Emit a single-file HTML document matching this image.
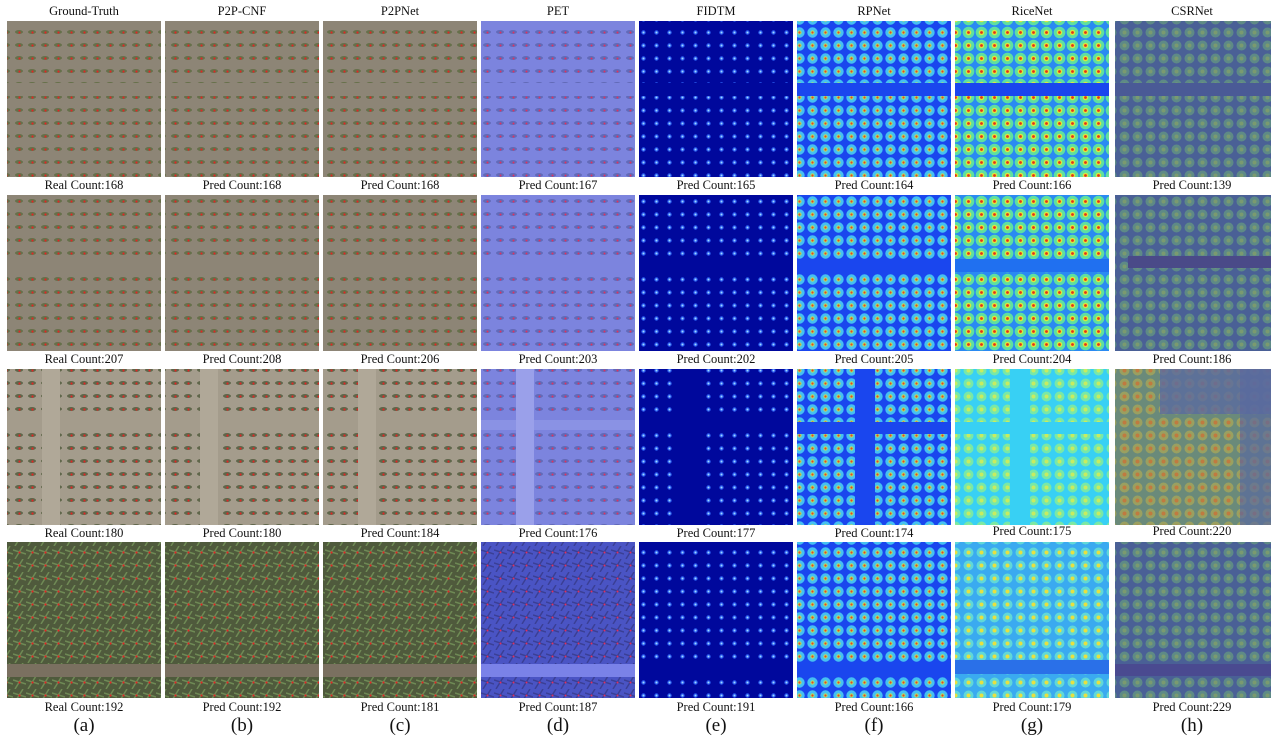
<!DOCTYPE html>
<html><head><meta charset="utf-8"><style>
body{margin:0;background:#fff;width:1280px;height:738px;overflow:hidden}
svg text{font-family:"Liberation Serif",serif;fill:#111}
</style></head><body>
<svg width="1280" height="738" xmlns="http://www.w3.org/2000/svg">
<defs>
<pattern id="fd" width="13" height="13" patternUnits="userSpaceOnUse"><rect width="13" height="13" fill="#8d8576"/><ellipse cx="6" cy="6" rx="4" ry="2" fill="#66704a"/><circle cx="6.5" cy="6.5" r="1.1" fill="#e02525"/></pattern>
<pattern id="fd3" width="13" height="13" patternUnits="userSpaceOnUse"><rect width="13" height="13" fill="#a49c8c"/><ellipse cx="6" cy="6" rx="4" ry="2" fill="#5f664a"/><circle cx="6.5" cy="6.5" r="1.1" fill="#e02525"/></pattern>
<pattern id="fd4" width="13" height="13" patternUnits="userSpaceOnUse"><rect width="13" height="13" fill="#4f5a3c"/><path d="M0 4L13 8M2 13L10 0" stroke="#6f8a55" stroke-width="1.5"/><circle cx="6.5" cy="6.5" r="1.1" fill="#e02525"/></pattern>
<pattern id="pt" width="13" height="13" patternUnits="userSpaceOnUse"><rect width="13" height="13" fill="#7c84de"/><ellipse cx="6" cy="6" rx="4" ry="2" fill="#626ab8"/><circle cx="6.5" cy="6.5" r="1" fill="#e03060"/></pattern>
<pattern id="pt4" width="13" height="13" patternUnits="userSpaceOnUse"><rect width="13" height="13" fill="#4a54c4"/><path d="M0 4L13 8M2 13L10 0" stroke="#3a3f95" stroke-width="1.5"/><circle cx="6.5" cy="6.5" r="1" fill="#e03060"/></pattern>
<pattern id="fi" width="13" height="13" patternUnits="userSpaceOnUse"><rect width="13" height="13" fill="#00089c"/><circle cx="6.5" cy="6.5" r="2.2" fill="#2a5cf0"/><circle cx="6.5" cy="6.5" r="1" fill="#9fd8ff"/></pattern>
<pattern id="rp" width="13" height="13" patternUnits="userSpaceOnUse"><rect width="13" height="13" fill="#1a46ee"/><circle cx="6.5" cy="6.5" r="5.2" fill="#45c0f2"/><circle cx="6.5" cy="6.5" r="2.2" fill="#a8e070"/><circle cx="6.5" cy="6.5" r="1.1" fill="#f04020"/></pattern>
<pattern id="ri" width="13" height="13" patternUnits="userSpaceOnUse"><rect width="13" height="13" fill="#2a8af2"/><circle cx="6.5" cy="6.5" r="5.8" fill="#5ee0a0"/><circle cx="6.5" cy="6.5" r="2.8" fill="#d8e840"/><circle cx="6.5" cy="6.5" r="1.4" fill="#e83018"/></pattern>
<pattern id="ri3" width="13" height="13" patternUnits="userSpaceOnUse"><rect width="13" height="13" fill="#38d0f4"/><circle cx="6.5" cy="6.5" r="5" fill="#78e8a8"/><circle cx="6.5" cy="6.5" r="2" fill="#c8ec60"/></pattern>
<pattern id="ri4" width="13" height="13" patternUnits="userSpaceOnUse"><rect width="13" height="13" fill="#3aaaf0"/><circle cx="6.5" cy="6.5" r="5" fill="#60d8d8"/><circle cx="6.5" cy="6.5" r="2" fill="#e8e040"/></pattern>
<pattern id="cs" width="13" height="13" patternUnits="userSpaceOnUse"><rect width="13" height="13" fill="#4a6096"/><circle cx="6.5" cy="6.5" r="5" fill="#5e8a86"/><circle cx="6.5" cy="6.5" r="2" fill="#7a9a70"/></pattern>
<pattern id="cs3" width="13" height="13" patternUnits="userSpaceOnUse"><rect width="13" height="13" fill="#6a8a7a"/><circle cx="6.5" cy="6.5" r="5" fill="#9aa060"/><circle cx="6.5" cy="6.5" r="2" fill="#c07a40"/></pattern>
</defs>
<g font-size="12.5" text-anchor="middle">
<text x="84" y="15">Ground-Truth</text><text x="242" y="15">P2P-CNF</text><text x="400" y="15">P2PNet</text><text x="558" y="15">PET</text><text x="716" y="15">FIDTM</text><text x="874" y="15">RPNet</text><text x="1032" y="15">RiceNet</text><text x="1192" y="15">CSRNet</text>
</g>
<g>
<rect x="7" y="21" width="154" height="156" fill="url(#fd)"/><rect x="7" y="83" width="154" height="13" fill="#8d8576"/>
<rect x="165" y="21" width="154" height="156" fill="url(#fd)"/><rect x="165" y="83" width="154" height="13" fill="#8d8576"/>
<rect x="323" y="21" width="154" height="156" fill="url(#fd)"/><rect x="323" y="83" width="154" height="13" fill="#8d8576"/>
<rect x="481" y="21" width="154" height="156" fill="url(#pt)"/><rect x="481" y="83" width="154" height="13" fill="#7c84de"/>
<rect x="639" y="21" width="154" height="156" fill="url(#fi)"/><rect x="639" y="83" width="154" height="13" fill="#00089c"/>
<rect x="797" y="21" width="154" height="156" fill="url(#rp)"/><rect x="797" y="83" width="154" height="13" fill="#1a46ee"/>
<rect x="955" y="21" width="154" height="156" fill="url(#ri)"/><rect x="955" y="83" width="154" height="13" fill="#1a46ee"/>
<rect x="1115" y="21" width="156" height="156" fill="url(#cs)"/><rect x="1115" y="83" width="156" height="13" fill="#4a5a96"/>
</g>
<g>
<rect x="7" y="195" width="154" height="156" fill="url(#fd)"/><rect x="7" y="259" width="154" height="13" fill="#8d8576"/>
<rect x="165" y="195" width="154" height="156" fill="url(#fd)"/><rect x="165" y="259" width="154" height="13" fill="#8d8576"/>
<rect x="323" y="195" width="154" height="156" fill="url(#fd)"/><rect x="323" y="259" width="154" height="13" fill="#8d8576"/>
<rect x="481" y="195" width="154" height="156" fill="url(#pt)"/><rect x="481" y="259" width="154" height="13" fill="#7c84de"/>
<rect x="639" y="195" width="154" height="156" fill="url(#fi)"/><rect x="639" y="259" width="154" height="13" fill="#00089c"/>
<rect x="797" y="195" width="154" height="156" fill="url(#rp)"/><rect x="797" y="259" width="154" height="13" fill="#1a46ee"/>
<rect x="955" y="195" width="154" height="156" fill="url(#ri)"/><rect x="955" y="259" width="154" height="13" fill="#2070f0"/>
<rect x="1115" y="195" width="156" height="156" fill="url(#cs)"/><rect x="1128" y="256" width="143" height="12" fill="#4a4a88"/>
</g>
<g>
<rect x="7" y="369" width="154" height="156" fill="url(#fd3)"/><rect x="7" y="420" width="154" height="10" fill="#a49c8c"/><rect x="42" y="369" width="18" height="156" fill="#b0a898"/>
<rect x="165" y="369" width="154" height="156" fill="url(#fd3)"/><rect x="165" y="420" width="154" height="10" fill="#a49c8c"/><rect x="200" y="369" width="18" height="156" fill="#b0a898"/>
<rect x="323" y="369" width="154" height="156" fill="url(#fd3)"/><rect x="323" y="420" width="154" height="10" fill="#a49c8c"/><rect x="358" y="369" width="18" height="156" fill="#b0a898"/>
<rect x="481" y="369" width="154" height="156" fill="url(#pt)"/><rect x="481" y="420" width="154" height="10" fill="#8a92e4"/><rect x="516" y="369" width="18" height="156" fill="#9aa0ea"/>
<rect x="639" y="369" width="154" height="156" fill="url(#fi)"/><rect x="639" y="420" width="154" height="10" fill="#00089c"/><rect x="673" y="369" width="30" height="156" fill="#00089c"/>
<rect x="797" y="369" width="154" height="156" fill="url(#rp)"/><rect x="797" y="422" width="154" height="12" fill="#1a46ee"/><rect x="855" y="369" width="20" height="156" fill="#1a46ee"/>
<rect x="955" y="369" width="154" height="156" fill="url(#ri3)"/><rect x="955" y="422" width="154" height="12" fill="#38d0f4"/><rect x="1010" y="369" width="20" height="156" fill="#38d0f4"/>
<rect x="1115" y="369" width="156" height="156" fill="url(#cs3)"/><rect x="1160" y="369" width="111" height="45" fill="#5a6aa0" opacity="0.8"/><rect x="1240" y="369" width="31" height="156" fill="#5a6aa0" opacity="0.7"/>
</g>
<g>
<rect x="7" y="542" width="154" height="156" fill="url(#fd4)"/><rect x="7" y="664" width="154" height="13" fill="#7a7060"/>
<rect x="165" y="542" width="154" height="156" fill="url(#fd4)"/><rect x="165" y="664" width="154" height="13" fill="#7a7060"/>
<rect x="323" y="542" width="154" height="156" fill="url(#fd4)"/><rect x="323" y="664" width="154" height="13" fill="#7a7060"/>
<rect x="481" y="542" width="154" height="156" fill="url(#pt4)"/><rect x="481" y="664" width="154" height="13" fill="#7a82e8"/>
<rect x="639" y="542" width="154" height="156" fill="url(#fi)"/><rect x="639" y="660" width="154" height="14" fill="#00089c"/>
<rect x="797" y="542" width="154" height="156" fill="url(#rp)"/><rect x="797" y="662" width="154" height="14" fill="#1a46ee"/>
<rect x="955" y="542" width="154" height="156" fill="url(#ri4)"/><rect x="955" y="660" width="154" height="14" fill="#2a70e8"/>
<rect x="1115" y="542" width="156" height="156" fill="url(#cs)"/><rect x="1115" y="664" width="156" height="12" fill="#4a4a90"/>
</g>
<g font-size="12.5" text-anchor="middle">
<text x="84" y="189">Real Count:168</text><text x="242" y="189">Pred Count:168</text><text x="400" y="189">Pred Count:168</text><text x="558" y="189">Pred Count:167</text><text x="716" y="189">Pred Count:165</text><text x="874" y="189">Pred Count:164</text><text x="1032" y="189">Pred Count:166</text><text x="1192" y="189">Pred Count:139</text>
<text x="84" y="363">Real Count:207</text><text x="242" y="363">Pred Count:208</text><text x="400" y="363">Pred Count:206</text><text x="558" y="363">Pred Count:203</text><text x="716" y="363">Pred Count:202</text><text x="874" y="363">Pred Count:205</text><text x="1032" y="363">Pred Count:204</text><text x="1192" y="363">Pred Count:186</text>
<text x="84" y="537">Real Count:180</text><text x="242" y="537">Pred Count:180</text><text x="400" y="537">Pred Count:184</text><text x="558" y="537">Pred Count:176</text><text x="716" y="537">Pred Count:177</text><text x="874" y="537">Pred Count:174</text><text x="1032" y="535">Pred Count:175</text><text x="1192" y="535">Pred Count:220</text>
<text x="84" y="711">Real Count:192</text><text x="242" y="711">Pred Count:192</text><text x="400" y="711">Pred Count:181</text><text x="558" y="711">Pred Count:187</text><text x="716" y="711">Pred Count:191</text><text x="874" y="711">Pred Count:166</text><text x="1032" y="711">Pred Count:179</text><text x="1192" y="711">Pred Count:229</text>
</g>
<g font-size="19" text-anchor="middle">
<text x="84" y="731">(a)</text><text x="242" y="731">(b)</text><text x="400" y="731">(c)</text><text x="558" y="731">(d)</text><text x="716" y="731">(e)</text><text x="874" y="731">(f)</text><text x="1032" y="731">(g)</text><text x="1192" y="731">(h)</text>
</g>
</svg>
</body></html>
